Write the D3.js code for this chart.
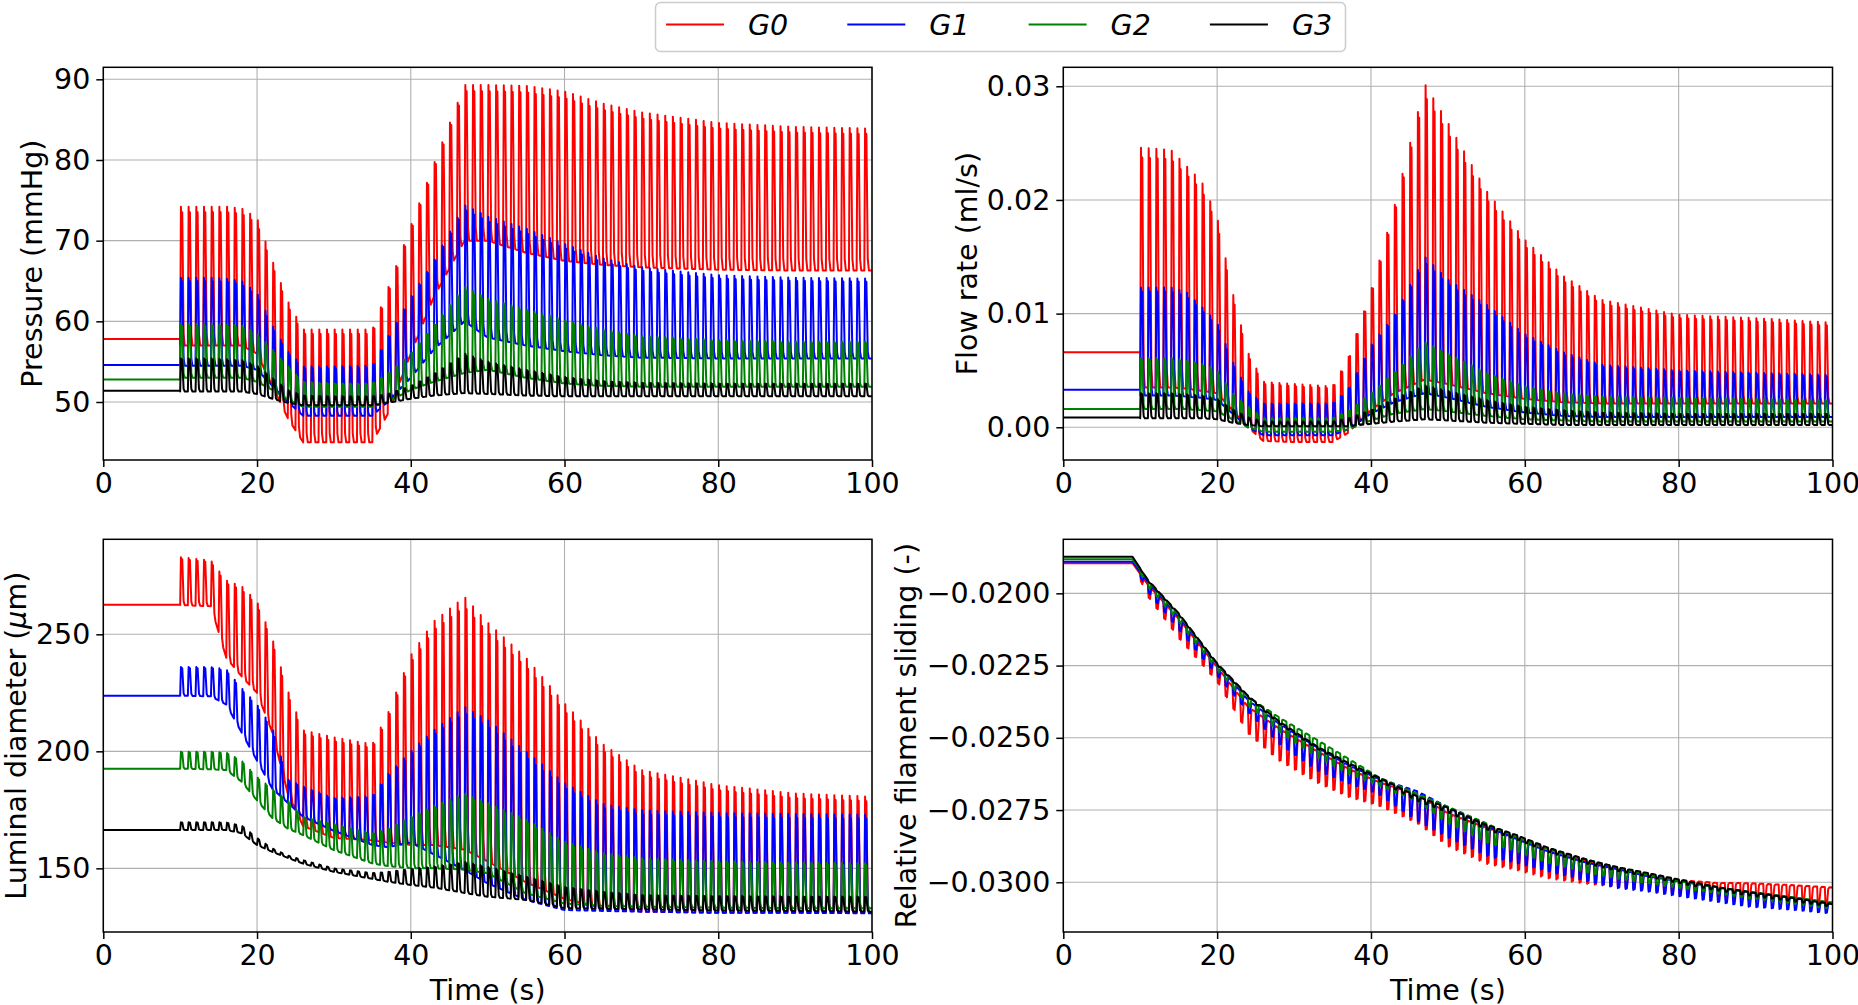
<!DOCTYPE html>
<html>
<head>
<meta charset="utf-8">
<script src="https://cdn.jsdelivr.net/npm/d3@7"></script>
<style>
  body { margin: 0; background: #fff; }
  text { font-family: "DejaVu Sans", sans-serif; }
</style>
</head>
<body>
<svg id="chart" width="1858" height="1005"></svg>
<script>
// series names and colours
const groups = ["G0", "G1", "G2", "G3"];
const colors = ["#ff0000", "#0000ff", "#008000", "#000000"];

// heart beat period (s) and start of the pulsatile phase
const period = 1.0;
const oscStart = 10;

// key times at which the upper / lower envelopes were read
const keyTime = [10, 14, 16, 18, 20, 22, 24, 26, 30, 35, 37, 40, 43, 47, 50, 55, 60, 65, 70, 80, 90, 100];

// Pressure (mmHg)
const pBase = [57.8, 54.6, 52.8, 51.4];
const pG0hi = [74.2, 74.2, 74.2, 74.0, 72.8, 67.5, 62.5, 59.0, 59.0, 59.0, 64.0, 71.8, 79.5, 89.3, 89.3, 89.2, 88.5, 87.0, 85.9, 84.6, 84.1, 83.9];
const pG0lo = [57, 57, 57, 57, 56, 52, 48, 45, 45, 45, 48.5, 56, 63, 70, 70, 68.5, 67.5, 67, 66.7, 66.4, 66.3, 66.3];
const pG1hi = [65.4, 65.4, 65.3, 65, 63.5, 59.5, 56.3, 54.4, 54.4, 54.5, 58, 63, 67.5, 74.4, 73, 71.5, 69.6, 67.8, 66.7, 65.7, 65.4, 65.3];
const pG1lo = [54.5, 54.5, 54.5, 54.5, 54, 52, 50, 48.3, 48.3, 48.3, 50, 53, 56.5, 60, 58, 57, 56.3, 55.8, 55.5, 55.4, 55.4, 55.4];
const pG2hi = [59.7, 59.7, 59.6, 59.5, 58.5, 56.5, 54.5, 52.5, 52.3, 52.3, 53.5, 56, 59.5, 64.3, 62.8, 61.5, 60.2, 59, 58.2, 57.7, 57.5, 57.5];
const pG2lo = [53, 53, 53, 53, 52.5, 51.5, 50.3, 49.4, 49.4, 49.4, 50, 51.5, 52.5, 53.6, 54, 53, 52.3, 52, 51.9, 51.9, 51.9, 51.9];
const pG3hi = [55.4, 55.4, 55.3, 55.2, 54.5, 53, 51.5, 50.8, 50.7, 50.7, 51, 52, 53.5, 56, 55, 54, 53.1, 52.6, 52.4, 52.3, 52.3, 52.3];
const pG3lo = [51.3, 51.3, 51.3, 51.3, 51, 50.4, 49.9, 49.6, 49.6, 49.6, 49.9, 50.4, 50.8, 51.1, 51, 50.8, 50.7, 50.7, 50.7, 50.7, 50.7, 50.7];

// Flow rate (ml/s)
const qBase = [0.0066, 0.0033, 0.0016, 0.00085];
const qG0hi = [0.0246, 0.0244, 0.0230, 0.0216, 0.0185, 0.0119, 0.0066, 0.0040, 0.0038, 0.0036, 0.0060, 0.0120, 0.0193, 0.0302, 0.0268, 0.0208, 0.0165, 0.0133, 0.0112, 0.0099, 0.0096, 0.0092];
const qG0lo = [0.0035, 0.0035, 0.0034, 0.0032, 0.0030, 0.0015, 0.0000, -0.0012, -0.0013, -0.0013, -0.0005, 0.0015, 0.0030, 0.0042, 0.0038, 0.0030, 0.0025, 0.0022, 0.0021, 0.0021, 0.0021, 0.0021];
const qG1hi = [0.0123, 0.0123, 0.0119, 0.0106, 0.0092, 0.0058, 0.0032, 0.0021, 0.0021, 0.0021, 0.0033, 0.0072, 0.0098, 0.0150, 0.0130, 0.0108, 0.0082, 0.0066, 0.0055, 0.0050, 0.0048, 0.0046];
const qG1lo = [0.0028, 0.0028, 0.0027, 0.0026, 0.0024, 0.0012, 0.0000, -0.0007, -0.0007, -0.0007, -0.0002, 0.0012, 0.0022, 0.0030, 0.0026, 0.0018, 0.0013, 0.0010, 0.0009, 0.0009, 0.0009, 0.0009];
const qG2hi = [0.0061, 0.0061, 0.0059, 0.0056, 0.0050, 0.0030, 0.0018, 0.0008, 0.0008, 0.0008, 0.0014, 0.0030, 0.0048, 0.0075, 0.0065, 0.0048, 0.0036, 0.0030, 0.0027, 0.0026, 0.0025, 0.0024];
const qG2lo = [0.0016, 0.0016, 0.0016, 0.0015, 0.0014, 0.0007, 0.0000, -0.0004, -0.0004, -0.0004, -0.0002, 0.0006, 0.0012, 0.0016, 0.0014, 0.0010, 0.0007, 0.0006, 0.0005, 0.0005, 0.0005, 0.0005];
const qG3hi = [0.0030, 0.0030, 0.0029, 0.0028, 0.0025, 0.0016, 0.0009, 0.0005, 0.0005, 0.0005, 0.0008, 0.0015, 0.0025, 0.0037, 0.0032, 0.0024, 0.0018, 0.0015, 0.0013, 0.0012, 0.0012, 0.0012];
const qG3lo = [0.0008, 0.0008, 0.0008, 0.0008, 0.0007, 0.0004, 0.0002, 0.0001, 0.0001, 0.0001, 0.0001, 0.0003, 0.0005, 0.0007, 0.0006, 0.0004, 0.0003, 0.0002, 0.0002, 0.0002, 0.0002, 0.0002];

// Luminal diameter (um)
const dBase = [262.6, 223.8, 192.6, 166.4];
const dG0hi = [283, 281.5, 273, 270.5, 264, 248, 226, 209, 206, 203, 216, 241, 255.5, 266, 255, 240, 220.5, 203, 192, 185.5, 182, 180.6];
const dG0lo = [262.5, 262, 240, 232, 225, 208, 182, 168, 163, 162, 161, 160, 160, 158, 153, 144, 137, 133, 131.5, 131, 131, 131];
const dG1hi = [236, 236, 235, 227, 220, 210, 188, 185, 180, 181, 190, 200, 209, 219, 213.4, 200, 186.5, 177.5, 174.8, 173.6, 173.2, 172.9];
const dG1lo = [223.8, 223.5, 220, 208, 196, 184, 178, 172, 166, 160, 159, 161, 156, 149.3, 143.6, 136.5, 132.2, 131.8, 131.5, 131, 131, 130.8];
const dG2hi = [199.8, 199.8, 199.5, 196, 189, 184, 179, 172, 169, 165, 167, 172, 176.5, 182, 178, 171, 161.4, 156.5, 154.3, 153, 152.5, 152.1];
const dG2lo = [192.6, 192.3, 192, 187, 179, 171.5, 167, 164.2, 157.8, 152.1, 151, 150.1, 150, 149.5, 147.9, 139.3, 135, 134, 133.6, 133.2, 133, 133];
const dG3hi = [169.7, 169.7, 169.6, 168.3, 163, 158.5, 155.5, 153.5, 150, 148, 148.5, 149.8, 150.7, 152.8, 150.7, 146.5, 142.1, 140, 138.6, 138.2, 138, 137.9];
const dG3lo = [166.4, 166.4, 166.4, 165, 160, 157, 154.5, 152, 148.5, 145.5, 144.3, 142.9, 141.8, 139.5, 137.9, 136.5, 133, 132.7, 132.5, 132, 131.8, 131.5];

// Relative filament sliding (-), own key times (sliding starts before 10 s)
const keyTimeS = [0, 9, 11, 15, 20, 24, 28, 33, 37, 41, 46, 50, 55, 59, 63, 68, 72, 76, 80, 85, 89, 95, 100];
const sG0hi = [-0.01896, -0.01896, -0.0197, -0.02088, -0.02255, -0.02392, -0.02467, -0.02546, -0.02606, -0.02653, -0.02697, -0.02761, -0.02811, -0.02845, -0.02885, -0.02926, -0.02953, -0.02977, -0.02992, -0.03002, -0.03003, -0.0301, -0.03018];
const sG0lo = [-0.01896, -0.01896, -0.02012, -0.02155, -0.02306, -0.02484, -0.02578, -0.02655, -0.02704, -0.02735, -0.02795, -0.02875, -0.02936, -0.02958, -0.02986, -0.03005, -0.03016, -0.03026, -0.03038, -0.0305, -0.03061, -0.03073, -0.03084];
const sG1hi = [-0.018907, -0.018907, -0.01962, -0.02081, -0.02245, -0.02369, -0.0245, -0.02533, -0.02594, -0.02642, -0.02685, -0.0274, -0.02806, -0.02851, -0.02893, -0.02932, -0.02954, -0.02979, -0.02996, -0.03017, -0.03033, -0.03053, -0.03075];
const sG1lo = [-0.018907, -0.018907, -0.01996, -0.02125, -0.02285, -0.0241, -0.0252, -0.02614, -0.02657, -0.02695, -0.02788, -0.02845, -0.02908, -0.02934, -0.02962, -0.02995, -0.0302, -0.03032, -0.03048, -0.03068, -0.03084, -0.03096, -0.03108];
const sG2hi = [-0.018823, -0.018823, -0.01954, -0.02075, -0.02243, -0.02358, -0.02428, -0.02507, -0.02571, -0.02636, -0.02694, -0.02738, -0.02796, -0.02844, -0.02882, -0.02921, -0.02949, -0.02974, -0.02996, -0.03017, -0.03033, -0.03052, -0.0307];
const sG2lo = [-0.018823, -0.018823, -0.01977, -0.02098, -0.02265, -0.02387, -0.02478, -0.02568, -0.02623, -0.02665, -0.0272, -0.02795, -0.02862, -0.02894, -0.02933, -0.02965, -0.02987, -0.03003, -0.03019, -0.03038, -0.03055, -0.03073, -0.03092];
const sG3hi = [-0.018734, -0.018734, -0.01954, -0.02069, -0.02242, -0.02354, -0.02442, -0.0253, -0.02586, -0.02637, -0.02703, -0.02742, -0.02801, -0.02837, -0.0288, -0.02921, -0.02947, -0.02968, -0.0299, -0.03016, -0.03033, -0.03055, -0.03075];
const sG3lo = [-0.018734, -0.018734, -0.01958, -0.02074, -0.02248, -0.0236, -0.0245, -0.02538, -0.02595, -0.02648, -0.02718, -0.02758, -0.02817, -0.02853, -0.02895, -0.02935, -0.02961, -0.02981, -0.03003, -0.03028, -0.03045, -0.03066, -0.03085];

// tick labels
const xTicks = [0, 20, 40, 60, 80, 100];
const pTicks = [50, 60, 70, 80, 90];
const qTicks = [0, 0.01, 0.02, 0.03];
const dTicks = [150, 200, 250];
const sTicks = [-0.03, -0.0275, -0.025, -0.0225, -0.02];

// one beat: [phase, fraction of the swing] - sharp rise, notched top, quick fall
const wave = [[0, 0], [0.1, 1], [0.18, 0.8], [0.27, 0.96], [0.45, 0.08], [0.6, 0]];

const svg = d3.select("#chart");
const fontSize = 28.5;

// build the pulsatile trace from the envelopes
function buildTrace(tk, hi, lo, base, spikeDown) {
  const hiAt = d3.scaleLinear().domain(tk).range(hi).clamp(true);
  const loAt = d3.scaleLinear().domain(tk).range(lo).clamp(true);
  const pts = [];
  if (base !== null) {
    pts.push([0, base], [oscStart, base]);
  } else {
    tk.filter(t => t < oscStart).forEach(t => pts.push([t, hiAt(t)]));
  }
  for (let c = oscStart; c < 100 - 1e-9; c += period) {
    for (const [ph, w] of wave) {
      const t = c + ph * period;
      if (t > 100) break;
      const h = hiAt(t), l = loAt(t);
      pts.push([t, spikeDown ? h - w * (h - l) : l + w * (h - l)]);
    }
  }
  pts.push([100, spikeDown ? hiAt(100) : loAt(100)]);
  return pts;
}

const panels = [
  { x0: 103.3, x1: 872, y0: 67.3, y1: 460, dom: [42.81, 91.49], ticks: pTicks, fmt: d3.format("d"),
    label: "Pressure (mmHg)", labelX: 42, xlabel: false, tk: keyTime, base: pBase,
    hi: [pG0hi, pG1hi, pG2hi, pG3hi], lo: [pG0lo, pG1lo, pG2lo, pG3lo], down: false },
  { x0: 1063.3, x1: 1832.5, y0: 67.3, y1: 460, dom: [-0.00288, 0.03167], ticks: qTicks, fmt: d3.format(".2f"),
    label: "Flow rate (ml/s)", labelX: 977, xlabel: false, tk: keyTime, base: qBase,
    hi: [qG0hi, qG1hi, qG2hi, qG3hi], lo: [qG0lo, qG1lo, qG2lo, qG3lo], down: false },
  { x0: 103.3, x1: 872, y0: 539.3, y1: 932, dom: [122.8, 290.6], ticks: dTicks, fmt: d3.format("d"),
    label: "mu", labelX: 26, xlabel: true, tk: keyTime, base: dBase,
    hi: [dG0hi, dG1hi, dG2hi, dG3hi], lo: [dG0lo, dG1lo, dG2lo, dG3lo], down: false },
  { x0: 1063.3, x1: 1832.5, y0: 539.3, y1: 932, dom: [-0.03172, -0.01813], ticks: sTicks, fmt: d3.format(".4f"),
    label: "Relative filament sliding (-)", labelX: 916, xlabel: true, tk: keyTimeS, base: [null, null, null, null],
    hi: [sG0hi, sG1hi, sG2hi, sG3hi], lo: [sG0lo, sG1lo, sG2lo, sG3lo], down: true }
];

panels.forEach(p => {
  const x = d3.scaleLinear().domain([0, 100]).range([p.x0, p.x1]);
  const y = d3.scaleLinear().domain(p.dom).range([p.y1, p.y0]);
  const g = svg.append("g");

  // grid
  g.append("g").selectAll("line").data(xTicks).join("line")
    .attr("x1", d => x(d)).attr("x2", d => x(d))
    .attr("y1", p.y0).attr("y2", p.y1)
    .attr("stroke", "#b0b0b0").attr("stroke-width", 1.1);
  g.append("g").selectAll("line").data(p.ticks).join("line")
    .attr("x1", p.x0).attr("x2", p.x1)
    .attr("y1", d => y(d)).attr("y2", d => y(d))
    .attr("stroke", "#b0b0b0").attr("stroke-width", 1.1);

  // traces
  const line = d3.line().x(d => x(d[0])).y(d => y(d[1]));
  groups.forEach((name, i) => {
    const pts = buildTrace(p.tk, p.hi[i], p.lo[i], p.base[i], p.down);
    g.append("path").datum(pts)
      .attr("d", line)
      .attr("fill", "none")
      .attr("stroke", colors[i])
      .attr("stroke-width", 2)
      .attr("stroke-linejoin", "round");
  });

  // frame
  g.append("rect")
    .attr("x", p.x0).attr("y", p.y0)
    .attr("width", p.x1 - p.x0).attr("height", p.y1 - p.y0)
    .attr("fill", "none").attr("stroke", "#000").attr("stroke-width", 1.5);

  // axes
  const xAxis = g.append("g").attr("transform", `translate(0,${p.y1})`)
    .call(d3.axisBottom(x).tickValues(xTicks).tickSize(7).tickPadding(6).tickFormat(d3.format("d")));
  const yAxis = g.append("g").attr("transform", `translate(${p.x0},0)`)
    .call(d3.axisLeft(y).tickValues(p.ticks).tickSize(7).tickPadding(6).tickFormat(p.fmt));
  [xAxis, yAxis].forEach(a => {
    a.select(".domain").remove();
    a.selectAll(".tick line").attr("stroke", "#000").attr("stroke-width", 1.5);
    a.selectAll(".tick text").attr("font-size", fontSize).attr("fill", "#000")
      .attr("font-family", "DejaVu Sans");
  });

  // y label
  const cy = (p.y0 + p.y1) / 2;
  const yl = g.append("text")
    .attr("transform", `translate(${p.labelX},${cy}) rotate(-90)`)
    .attr("text-anchor", "middle")
    .attr("font-size", fontSize);
  if (p.label === "mu") {
    yl.append("tspan").text("Luminal diameter (");
    yl.append("tspan").attr("font-style", "italic").text("\u03bc");
    yl.append("tspan").text("m)");
  } else {
    yl.text(p.label);
  }

  // x label
  if (p.xlabel) {
    g.append("text")
      .attr("x", (p.x0 + p.x1) / 2).attr("y", p.y1 + 68)
      .attr("text-anchor", "middle")
      .attr("font-size", fontSize)
      .text("Time (s)");
  }
});

// legend
const legend = svg.append("g");
legend.append("rect")
  .attr("x", 655.5).attr("y", 2.5).attr("width", 690).attr("height", 49)
  .attr("rx", 5).attr("fill", "#fff").attr("fill-opacity", 0.8)
  .attr("stroke", "#cccccc").attr("stroke-width", 1.5);
const item = legend.selectAll("g.item").data(groups).join("g")
  .attr("class", "item")
  .attr("transform", (d, i) => `translate(${666 + i * 181.3},0)`);
item.append("line")
  .attr("x1", 0).attr("x2", 58).attr("y1", 24.5).attr("y2", 24.5)
  .attr("stroke", (d, i) => colors[i]).attr("stroke-width", 2);
item.append("text")
  .attr("x", 82).attr("y", 35)
  .attr("font-size", fontSize)
  .attr("font-style", "italic")
  .text(d => d);
</script>
</body>
</html>
